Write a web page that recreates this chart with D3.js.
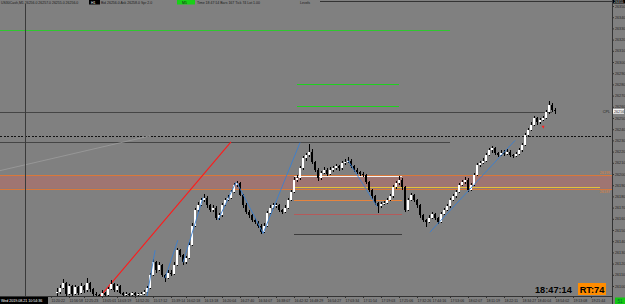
<!DOCTYPE html>
<html><head><meta charset="utf-8">
<script src="https://cdn.jsdelivr.net/npm/d3@7"></script>
<style>
html,body{margin:0;padding:0;background:#808080;overflow:hidden}
svg{display:block}
text{font-family:"Liberation Sans",Arial,sans-serif}
</style></head>
<body><svg id="chart" width="625" height="304"></svg>
<script>
// ---------- DATA ----------
const firstOpen = 26094;
const closes = [
26095,26098,26103,26093,26100,26093,26099,26094,26100,26096,
26103,26097,26093,26092,26091,26094,26092,26097,26102,26096,
26100,26094,26092,26093,26092,26094,26092,26093,26093,26095,
26098,26110,26121,26114,26119,26110,26107,26112,26111,26119,
26132,26128,26121,26125,26137,26154,26168,26172,26177,26179,
26172,26168,26170,26161,26163,26172,26177,26179,26184,26190,
26192,26181,26172,26166,26163,26159,26157,26154,26148,26154,
26165,26170,26172,26172,26168,26166,26170,26177,26184,26195,
26196,26205,26214,26217,26220,26211,26204,26196,26201,26204,
26200,26204,26205,26207,26205,26210,26211,26212,26207,26204,
26202,26200,26199,26193,26186,26180,26174,26171,26173,26174,
26177,26180,26188,26192,26195,26188,26168,26177,26181,26177,
26172,26163,26159,26157,26161,26164,26161,26157,26164,26168,
26171,26177,26180,26184,26190,26193,26195,26186,26190,26199,
26208,26210,26212,26217,26221,26223,26219,26217,26219,26218,
26220,26217,26216,26218,26221,26226,26235,26239,26244,26250,
26246,26248,26250,26255,26262,26257,26256];
const highs = [
26098,26101,26106,26104,26102,26101,26101,26100,26103,26101,
26107,26104,26098,26095,26093,26096,26095,26099,26105,26103,
26102,26101,26095,26095,26094,26095,26095,26094,26095,26096,
26100,26112,26124,26122,26121,26120,26111,26114,26114,26121,
26134,26133,26129,26127,26139,26156,26170,26175,26179,26182,
26180,26173,26172,26171,26165,26174,26179,26181,26186,26192,
26194,26193,26182,26174,26168,26164,26161,26158,26155,26156,
26167,26172,26174,26174,26173,26169,26172,26179,26186,26197,
26199,26207,26216,26219,26227,26222,26212,26205,26203,26206,
26205,26206,26207,26209,26208,26212,26213,26215,26213,26208,
26205,26203,26202,26200,26194,26187,26181,26175,26175,26176,
26179,26182,26190,26194,26198,26196,26189,26179,26183,26182,
26178,26173,26164,26160,26163,26166,26165,26162,26166,26170,
26173,26179,26182,26186,26192,26195,26197,26196,26192,26201,
26210,26212,26214,26219,26223,26225,26224,26220,26221,26221,
26222,26221,26218,26220,26223,26228,26237,26241,26246,26252,
26251,26250,26252,26257,26265,26263,26259];
const lows = [
26091,26093,26097,26091,26092,26091,26092,26092,26093,26094,
26095,26095,26091,26090,26089,26090,26090,26091,26096,26095,
26095,26093,26090,26091,26091,26091,26091,26091,26092,26092,
26094,26097,26109,26112,26113,26108,26104,26106,26109,26110,
26118,26126,26119,26120,26124,26136,26153,26166,26171,26175,
26170,26166,26166,26159,26159,26162,26171,26176,26178,26183,
26188,26180,26170,26164,26161,26157,26155,26152,26146,26147,
26153,26164,26169,26170,26166,26164,26165,26169,26176,26183,
26193,26195,26204,26212,26215,26209,26202,26194,26195,26200,
26198,26199,26202,26204,26203,26204,26208,26210,26205,26202,
26200,26198,26197,26191,26184,26178,26172,26165,26170,26172,
26173,26176,26179,26187,26190,26186,26166,26167,26176,26175,
26170,26161,26157,26153,26156,26160,26159,26155,26156,26163,
26167,26170,26176,26179,26183,26189,26191,26184,26185,26189,
26198,26206,26209,26211,26216,26219,26217,26215,26216,26216,
26217,26215,26214,26215,26217,26220,26225,26233,26238,26243,
26244,26245,26247,26249,26254,26255,26254];

const priceTicks = [26350,26340,26330,26320,26310,26300,26290,26280,26270,26260,26250,26240,26230,
                    26220,26210,26200,26190,26180,26170,26160,26150,26140,26130,26120,26110,26100];
const timeLabels = ["11:20:22","11:56:58","12:25:23","13:05:01","14:03:19","14:52:20","15:17:12","15:39:14",
  "16:02:18","16:13:18","16:20:04","16:27:40","16:34:07","16:38:07","16:42:32","16:48:29","16:54:27",
  "17:03:34","17:11:54","17:19:03","17:25:06","17:32:26","17:44:16","17:53:06","18:02:07","18:11:19",
  "18:22:11","18:34:27","18:40:04","18:54:02","19:13:08","19:21:44"];
const timeTickIndex = [-2,4,9,15,20,26,32,38,43,49,55,61,67,73,79,84,90,96,102,108,114,120,125,131,137,143,149,155,160,166,172,178];
const firstBarLabel = "Wed 2019.08.21 10:54:36";

const bandPrices = [26199, 26187];          // shaded zone top / bottom
const bandLabels = ["26199", "26187"];
const currentPrice = 26256;
// horizontal objects: [price, fromIndex, toIndex]
const greenLongLevel = [26329, -19, 131];
const greenShortLevels = [[26280, 80, 114], [26261, 80, 114]];
const grayLevels = [[26255, -19, 165], [26229, -19, 131]];
const dottedLevel = [26234, -19, 186];
const whiteBoxLevel = [26198, 79, 115];
const yellowLevel = [26188, 79, 181];
const orangeLevel = [26177, 79, 115];
const redLevel = [26164, 79, 115];
const darkLevel = [26146, 79, 115];
// trend lines: [[idx, price],[idx, price]]
const redTrend = [[14.3, 26090.6], [58, 26228.6]];
const faintTrend = [[-19, 26203], [31, 26234]];
const zigzagSegments = [
  [[30, 26091], [32.7, 26132]],
  [[36, 26107], [40.3, 26141]],
  [[42, 26121], [48.7, 26179]],
  [[53.7, 26159], [59.7, 26193]],
  [[60, 26192], [68.7, 26147]],
  [[68.7, 26147], [81, 26228]],
  [[97, 26212], [106.7, 26171]],
  [[124.3, 26148], [152.7, 26230]]
];
const signalMarks = [[162, 26243]];
const headerParts = ["US30Cash,M1 26256.0 26257.0 26255.0 26256.0", "H1", "Bid 26256.0 Ask 26258.0 Spr 2.0",
  "M5", "Time 18:47:14 Bars 167 Tick 74 Lot 1.00", "Levels"];
const clockText = "18:47:14";
const rtText = "RT:74";
const cornerText = "51";

// ---------- DRAW ----------
const W = 625, H = 304, axisX = 612.5, axisY = 296.5;
const svg = d3.select("#chart");
svg.append("rect").attr("width", W).attr("height", H).attr("fill", "#808080");
const x = d3.scaleLinear().domain([0, 166]).range([57, 555]);
const y = d3.scaleLinear().domain([26350, 26100]).range([6, 286]);

svg.append("defs").append("clipPath").attr("id", "plot")
  .append("rect").attr("x", 0).attr("y", 2).attr("width", 612).attr("height", 294.5);
const g = svg.append("g").attr("clip-path", "url(#plot)");

// band
g.append("rect").attr("x", 0).attr("width", 612)
  .attr("y", y(bandPrices[0])).attr("height", y(bandPrices[1]) - y(bandPrices[0]))
  .attr("fill", "#9f7572");
bandPrices.forEach(p => g.append("line").attr("x1", 0).attr("x2", 612)
  .attr("y1", Math.round(y(p)) + 0.5).attr("y2", Math.round(y(p)) + 0.5)
  .attr("stroke", "#d9783a").attr("stroke-width", 1));

function hline(lvl, color, dash, width) {
  const yy = Math.round(y(lvl[0])) + 0.5;
  g.append("line").attr("x1", x(lvl[1])).attr("x2", x(lvl[2])).attr("y1", yy).attr("y2", yy)
    .attr("stroke", color).attr("stroke-width", width || 1).attr("stroke-dasharray", dash || null)
    .attr("shape-rendering", "crispEdges");
}
hline(greenLongLevel, "#2ec82e");
greenShortLevels.forEach(l => hline(l, "#1fd01f", null, 1.3));
grayLevels.forEach(l => hline(l, "#454545"));
hline(dottedLevel, "#111", "2,1.5");
hline(yellowLevel, "#e3c23a");
hline(orangeLevel, "#e5843f");
hline(redLevel, "#b45a5a");
hline(darkLevel, "#3c3c3c");
// white box (top + left edge)
{
  const yt = Math.round(y(whiteBoxLevel[0])) + 0.5, yb = Math.round(y(yellowLevel[0])) + 0.5;
  g.append("path").attr("d", `M${x(whiteBoxLevel[2])},${yt}H${Math.round(x(whiteBoxLevel[1]))+0.5}V${yb}`)
    .attr("fill", "none").attr("stroke", "#f2f2f2").attr("stroke-width", 1);
}
// trend lines
function seg(s, color, w) {
  g.append("line").attr("x1", x(s[0][0])).attr("y1", y(s[0][1])).attr("x2", x(s[1][0])).attr("y2", y(s[1][1]))
    .attr("stroke", color).attr("stroke-width", w);
}
seg(faintTrend, "#9c9c9c", 0.8);
seg(redTrend, "#ff1a1a", 1.1);

// vertical separator
svg.append("line").attr("x1", 25.5).attr("x2", 25.5).attr("y1", 4).attr("y2", axisY)
  .attr("stroke", "#3a3a3a").attr("stroke-width", 1);

// candles
const bars = closes.map((c, i) => ({ i, o: i === 0 ? firstOpen : closes[i - 1], c, h: highs[i], l: lows[i] }));
const cg = g.append("g").attr("shape-rendering", "crispEdges");
cg.selectAll("line.w").data(bars).join("line").attr("class", "w")
  .attr("x1", d => Math.round(x(d.i)) + 0.5).attr("x2", d => Math.round(x(d.i)) + 0.5)
  .attr("y1", d => y(d.h)).attr("y2", d => y(d.l)).attr("stroke", "#000").attr("stroke-width", 1);
cg.selectAll("rect.b").data(bars).join("rect").attr("class", "b")
  .attr("x", d => Math.round(x(d.i)) - 1).attr("width", 2)
  .attr("y", d => y(Math.max(d.o, d.c)))
  .attr("height", d => Math.max(1, Math.abs(y(d.o) - y(d.c))))
  .attr("fill", d => d.c >= d.o ? "#ffffff" : "#000000");

// zigzag
zigzagSegments.forEach(s => seg(s, "#3a7fd0", 0.9));
// signal marks
signalMarks.forEach(m => {
  const cx = x(m[0]), cy = y(m[1]);
  g.append("path").attr("d", `M${cx-1.5},${cy}L${cx+1.5},${cy}L${cx+0.5},${cy+3}Z`).attr("fill", "#ff2020");
});

// axes lines
svg.append("line").attr("x1", axisX).attr("x2", axisX).attr("y1", 0).attr("y2", H).attr("stroke", "#333");
svg.append("line").attr("x1", 0).attr("x2", axisX).attr("y1", axisY).attr("y2", axisY).attr("stroke", "#333");
svg.append("line").attr("x1", 320).attr("x2", axisX).attr("y1", 1.5).attr("y2", 1.5).attr("stroke", "#333");

// y axis
const ya = svg.append("g").attr("transform", `translate(${axisX},0)`)
  .call(d3.axisRight(y).tickValues(priceTicks).tickSize(1.5).tickPadding(1).tickFormat(d3.format("d")));
ya.select(".domain").remove();
ya.selectAll("line").attr("stroke", "#333");
ya.selectAll("text").attr("font-size", 3.7).attr("fill", "#1e1e1e").attr("font-family", "Liberation Sans, Arial, sans-serif");

// x axis
const xa = svg.append("g").attr("transform", `translate(0,${axisY})`)
  .call(d3.axisBottom(x).tickValues(timeTickIndex).tickSize(1.5).tickPadding(1).tickFormat((d, i) => timeLabels[i]));
xa.select(".domain").remove();
xa.selectAll("line").attr("stroke", "#333");
xa.selectAll("text").attr("font-size", 3.5).attr("fill", "#1e1e1e").attr("text-anchor", "start")
  .attr("font-family", "Liberation Sans, Arial, sans-serif").attr("dy", "0.9em");

// first bar date box
svg.append("rect").attr("x", 0).attr("y", 297).attr("width", 48).attr("height", 7).attr("fill", "#000");
svg.append("text").attr("x", 1).attr("y", 302.3).attr("font-size", 3.6).attr("fill", "#fff").text(firstBarLabel);

// corner green box
svg.append("rect").attr("x", 615).attr("y", 297.5).attr("width", 10).attr("height", 6.5).attr("fill", "#12c812");
svg.append("text").attr("x", 620).attr("y", 302.5).attr("font-size", 4.5).attr("text-anchor", "middle").attr("fill", "#063").text(cornerText);

// top price box
svg.append("rect").attr("x", 613).attr("y", 0).attr("width", 12).attr("height", 3.5).attr("fill", "#000");
svg.append("text").attr("x", 614).attr("y", 3).attr("font-size", 3.4).attr("fill", "#ddd").text(d3.format("d")(y.invert(0.8)));

// current price label
{
  const cy = y(currentPrice);
  svg.append("rect").attr("x", 613).attr("y", cy - 2.5).attr("width", 11).attr("height", 5).attr("fill", "#f4f4f4");
  svg.append("text").attr("x", 614).attr("y", cy + 1.4).attr("font-size", 3.7).attr("fill", "#222").text(currentPrice);
  svg.append("text").attr("x", 610).attr("y", cy + 1.4).attr("font-size", 3.7).attr("text-anchor", "end").attr("fill", "#222").text("CPL");
}
// band labels
svg.append("text").attr("x", 610).attr("y", y(bandPrices[0]) - 1).attr("font-size", 3.7).attr("text-anchor", "end").attr("fill", "#e0803a").text(bandLabels[0]);
svg.append("text").attr("x", 610).attr("y", y(bandPrices[1]) + 4.2).attr("font-size", 3.7).attr("text-anchor", "end").attr("fill", "#e0803a").text(bandLabels[1]);

// header
{
  const hx = [1, 89, 101, 177, 197, 300];
  headerParts.forEach((t, i) => {
    if (i === 1) svg.append("rect").attr("x", 89).attr("y", 0).attr("width", 11).attr("height", 4.5).attr("fill", "#000");
    if (i === 3) svg.append("rect").attr("x", 177).attr("y", 0).attr("width", 18).attr("height", 4.5).attr("fill", "#18d018");
    svg.append("text").attr("x", hx[i] + (i === 1 ? 2 : i === 3 ? 5 : 0)).attr("y", 3.6).attr("font-size", 3.5)
      .attr("fill", i === 1 ? "#eee" : "#1a1a1a").text(t);
  });
}

// clock + RT box
svg.append("text").attr("x", 535).attr("y", 293).attr("font-size", 9.2).attr("font-weight", "bold").attr("fill", "#000")
  .attr("font-family", "Liberation Sans, Arial, sans-serif").text(clockText);
svg.append("rect").attr("x", 578).attr("y", 283).attr("width", 28).attr("height", 12).attr("fill", "#ff8c00");
svg.append("text").attr("x", 592).attr("y", 293).attr("font-size", 9.2).attr("font-weight", "bold").attr("text-anchor", "middle")
  .attr("fill", "#000").text(rtText);
</script></body></html>
